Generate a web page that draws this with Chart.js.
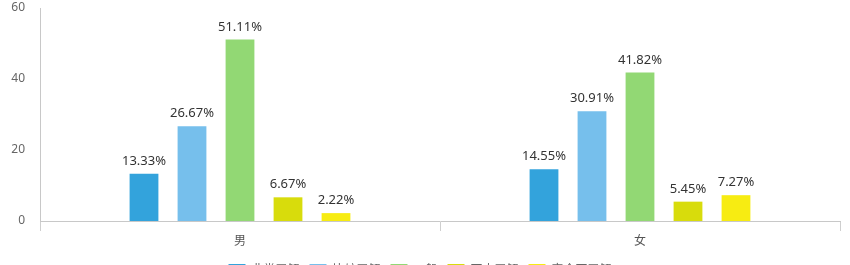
<!DOCTYPE html>
<html><head><meta charset="utf-8">
<script src="https://cdn.jsdelivr.net/npm/chart.js@4"></script>
<style>
html,body{margin:0;padding:0;background:#fff;overflow:hidden;}
#wrap{width:850px;height:285px;position:relative;}
</style></head><body>
<div id="wrap"><canvas id="c"></canvas></div>
<script>
const categories = ["男", "女"];
const seriesNames = ["非常了解", "比较了解", "一般", "不太了解", "完全不了解"];
const s1 = [13.33, 14.55];
const s2 = [26.67, 30.91];
const s3 = [51.11, 41.82];
const s4 = [6.67, 5.45];
const s5 = [2.22, 7.27];
const yTicks = [0, 20, 40, 60];
const colors = ["#33a3dc", "#76bfec", "#92d874", "#d8dc0c", "#f7ec12"];
const values = [s1, s2, s3, s4, s5];

const labelPlugin = {
  id: 'valLabels',
  afterDatasetsDraw(chart) {
    const ctx = chart.ctx;
    ctx.save();
    ctx.font = '13px "Noto Sans", "DejaVu Sans", sans-serif';
    ctx.fillStyle = '#333';
    ctx.textAlign = 'center';
    ctx.textBaseline = 'alphabetic';
    chart.data.datasets.forEach((ds, i) => {
      const meta = chart.getDatasetMeta(i);
      meta.data.forEach((el, j) => {
        ctx.fillText(ds.data[j].toFixed(2) + '%', el.x, el.y - 9);
      });
    });
    ctx.restore();
  }
};

new Chart(document.getElementById('c'), {
  type: 'bar',
  data: {
    labels: categories,
    datasets: values.map((v, i) => ({
      label: seriesNames[i],
      data: v,
      backgroundColor: colors[i],
      borderWidth: 0,
      barPercentage: 0.6,
      categoryPercentage: 0.6
    }))
  },
  options: {
    responsive: true,
    maintainAspectRatio: false,
    animation: false,
    layout: { padding: { top: 8, right: 10, left: 0, bottom: 0 } },
    plugins: {
      legend: {
        position: 'bottom',
        labels: {
          boxWidth: 17, boxHeight: 10,
          color: '#666',
          padding: 10,
          font: { size: 12, family: '"Noto Sans CJK SC", "Noto Sans", sans-serif' }
        }
      },
      tooltip: { enabled: false }
    },
    scales: {
      x: {
        afterFit(s) { s.height = 32; },
        grid: { display: true, drawOnChartArea: false, drawTicks: true, tickLength: 10, color: '#cfcfcf' },
        border: { display: true, color: '#c8c8c8' },
        ticks: { color: '#555', padding: 2, font: { size: 12, family: '"Noto Sans CJK SC", sans-serif' } }
      },
      y: {
        min: 0, max: 60,
        afterFit(s) { s.width = 40; s.paddingTop = 0; },
        afterBuildTicks(s) { s.ticks = yTicks.map(v => ({ value: v })); },
        grid: { display: false, drawTicks: false },
        border: { display: true, color: '#c8c8c8' },
        ticks: { color: '#666', padding: 15, font: { size: 12, family: '"Noto Sans", sans-serif' } }
      }
    }
  },
  plugins: [labelPlugin]
});
</script>
</body></html>
